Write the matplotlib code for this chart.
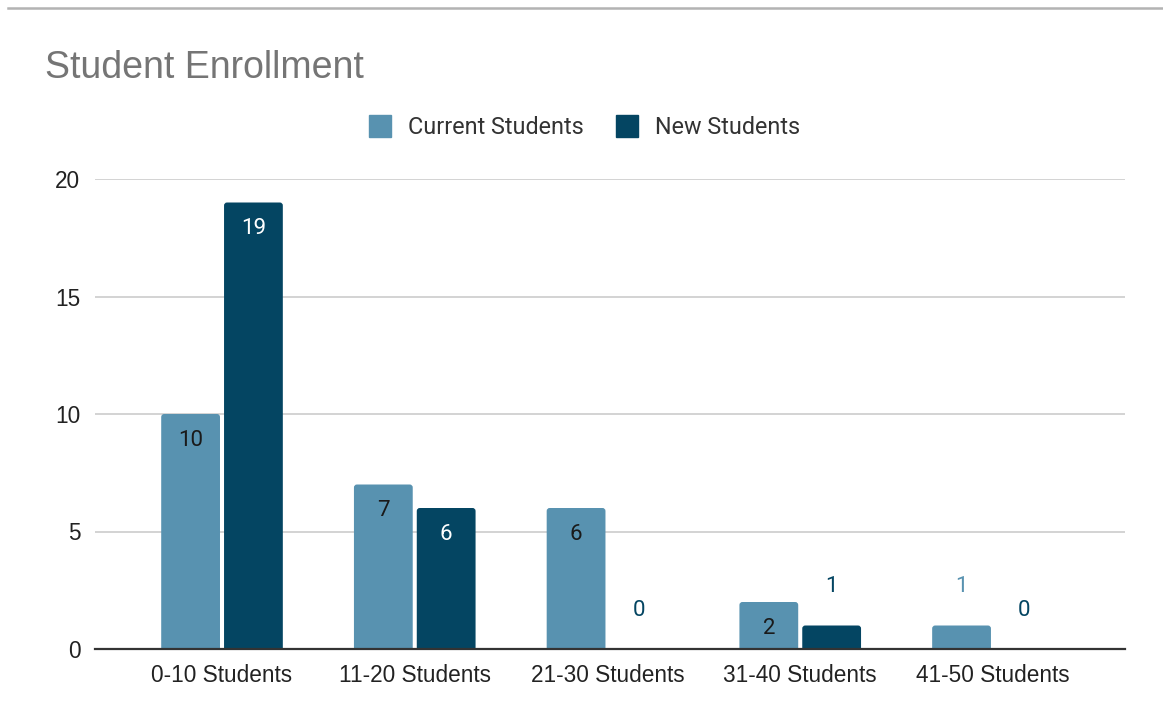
import matplotlib
matplotlib.use("Agg")
import matplotlib.pyplot as plt
from matplotlib.patches import FancyBboxPatch
from matplotlib.lines import Line2D
import numpy as np

categories = ["0-10 Students", "11-20 Students", "21-30 Students", "31-40 Students", "41-50 Students"]
current_students = [10, 7, 6, 2, 1]
new_students = [19, 6, 0, 1, 0]
series_names = ["Current Students", "New Students"]
y_ticks = [0, 5, 10, 15, 20]

CURRENT_COLOR = "#5892B0"
NEW_COLOR = "#044562"
GRID_COLOR = "#cccccc"
TEXT_COLOR = "#222222"

W, H = 1163, 719
fig = plt.figure(figsize=(W / 100, H / 100), dpi=100)

ax_left, ax_right = 95, 1125
ax_top, ax_bottom = 179, 649
ax = fig.add_axes([ax_left / W, 1 - ax_bottom / H,
                   (ax_right - ax_left) / W, (ax_bottom - ax_top) / H])

x = np.arange(len(categories))
width = 0.305
offset = 0.163
ax.set_xlim(-0.659, 4.685)
ax.set_ylim(0, 20)

# px per data unit, used for rounded corners and label offsets
px_x = (ax_right - ax_left) / (4.685 + 0.659)
px_y = (ax_bottom - ax_top) / 20.0


def rounded_bars(positions, values, color):
    bars = ax.bar(positions, values, width=width, color=color, zorder=3)
    r = 3.0 / px_x
    ext = 4.0 / px_y
    for rect in bars:
        rect.set_visible(False)
        h = rect.get_height()
        if h <= 0:
            continue
        patch = FancyBboxPatch((rect.get_x(), -ext), rect.get_width(), h + ext,
                               boxstyle=f"round,pad=0,rounding_size={r}",
                               mutation_aspect=px_x / px_y,
                               facecolor=color, edgecolor="none", zorder=3,
                               clip_on=True)
        ax.add_patch(patch)
    return bars


rounded_bars(x - offset, current_students, CURRENT_COLOR)
rounded_bars(x + offset, new_students, NEW_COLOR)


def value_labels(positions, values, color, inner_color):
    for xp, v in zip(positions, values):
        bar_px = v * px_y
        if bar_px > 40:
            ax.text(xp, v - 26 / px_y, str(v), ha="center", va="center",
                    fontsize=16, color=inner_color, family="Roboto", zorder=4)
        else:
            ax.text(xp, v + 39 / px_y, str(v), ha="center", va="center",
                    fontsize=16, color=color, family="Roboto", zorder=4)


value_labels(x - offset, current_students, CURRENT_COLOR, "#1a1a1a")
value_labels(x + offset, new_students, NEW_COLOR, "#ffffff")

ax.set_yticks(y_ticks)
ax.set_yticklabels([str(t) for t in y_ticks])
ax.set_xticks(x)
ax.set_xticklabels(categories)
ax.tick_params(axis="both", length=0, labelsize=16.3, colors=TEXT_COLOR)
ax.tick_params(axis="y", pad=10.5)
ax.tick_params(axis="x", pad=11)
for lab in ax.get_xticklabels() + ax.get_yticklabels():
    lab.set_family("Liberation Sans")

ax.grid(axis="y", color=GRID_COLOR, linewidth=1.2, zorder=0)
ax.set_axisbelow(True)
for side in ["top", "right", "left"]:
    ax.spines[side].set_visible(False)
ax.spines["bottom"].set_color("#333333")
ax.spines["bottom"].set_linewidth(1.6)
ax.spines["bottom"].set_zorder(5)

# title
fig.text(45 / W, 1 - 68 / H, "Student Enrollment", fontsize=27, color="#757575",
         family="Liberation Sans", ha="left", va="center")

# legend
handles = [
    Line2D([], [], marker="s", linestyle="none", markersize=16.5,
           markerfacecolor=CURRENT_COLOR, markeredgecolor=CURRENT_COLOR),
    Line2D([], [], marker="s", linestyle="none", markersize=16.5,
           markerfacecolor=NEW_COLOR, markeredgecolor=NEW_COLOR),
]
leg = fig.legend(handles, series_names, loc="center", bbox_to_anchor=(583 / W, 1 - 128 / H),
                 ncol=2, frameon=False, handletextpad=0.6, columnspacing=1.25,
                 handlelength=1.2, prop={"family": "Roboto", "size": 16.8})
for t in leg.get_texts():
    t.set_color("#333333")

# top rule
fig.add_artist(Line2D([8 / W, 1162 / W], [1 - 8 / H, 1 - 8 / H], color="#b3b3b3",
                      linewidth=1.8, transform=fig.transFigure))

fig.savefig("out.png", dpi=100)
